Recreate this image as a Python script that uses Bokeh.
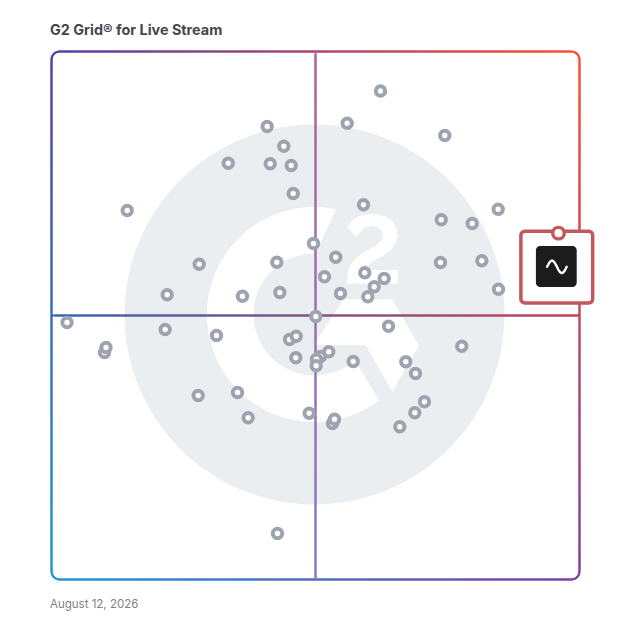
import math
import numpy as np
from bokeh.plotting import figure
from bokeh.models import Range1d
from bokeh.core.properties import value
from bokeh.embed import file_html
from bokeh.resources import INLINE

title_text = "G2 Grid\u00ae for Live Stream"
date_text = "August 12, 2026"

# Satisfaction (x) / market presence (y) scores, 0-100
market_x = [40.85, 56.00, 74.49, 44.00, 33.47, 41.42, 45.40, 45.78, 14.34, 59.09,
            73.81, 79.68, 84.60, 49.62, 53.84, 27.97, 42.67, 73.67, 81.50, 59.34,
            63.01, 51.70, 61.12, 59.91, 54.73, 43.24, 36.17, 21.91, 84.66, 50.06,
            21.53, 31.25, 63.83, 45.08, 46.34, 77.71, 46.27, 50.95, 52.52, 50.19,
            50.13, 57.14, 67.10, 68.94, 27.78, 35.23, 70.64, 68.81, 37.25, 48.81,
            53.22, 53.60, 65.97, 2.94, 10.04, 10.32, 42.80, 62.31]
market_y = [85.80, 86.42, 84.09, 82.06, 78.84, 78.73, 78.41, 73.11, 69.89, 70.97,
            68.13, 67.42, 70.13, 63.64, 61.04, 59.72, 60.09, 60.04, 60.36, 58.09,
            57.01, 57.33, 55.44, 53.54, 54.17, 54.36, 53.66, 53.92, 54.98, 49.81,
            47.35, 46.21, 47.97, 45.45, 46.08, 44.19, 41.99, 42.23, 43.13, 41.72,
            40.47, 41.29, 41.23, 39.02, 34.85, 35.42, 33.66, 31.57, 30.63, 31.50,
            29.55, 30.36, 28.92, 48.67, 42.99, 43.94, 8.71, 92.52]
selected_x = [96.02]
selected_y = [65.60]

# page-pixel to chart-unit helpers (only for decoration)
L, R, T, B = 51.0, 579.0, 51.0, 579.0
k = (R - L) / 100.0
def ux(px): return (np.asarray(px, dtype=float) - L) / k
def uy(py): return (B - np.asarray(py, dtype=float)) / k

p = figure(width=628, height=628, output_backend="svg", toolbar_location=None,
           x_axis_type=None, y_axis_type=None, min_border=0,
           x_range=Range1d(float(ux(0)), float(ux(628))),
           y_range=Range1d(float(uy(628)), float(uy(0))))
p.outline_line_color = None
p.grid.visible = False
p.background_fill_color = "white"
p.border_fill_color = "white"

# --- watermark ---
CX, CY = 314.0, 314.0
LOGO_GREY = "#ebeef1"
def arc(r, a0, a1, n=120):
    t = np.radians(np.linspace(a0, a1, n))
    return CX + r * np.cos(t), CY + r * np.sin(t)
cx, cy = arc(190, 0, 360, 240)
p.patch(ux(cx), uy(cy), fill_color=LOGO_GREY, line_color=None)

R_OUT, R_IN = 107.5, 61.0
a_out0 = math.degrees(math.atan2(-106.9, 22.1))
a_in0 = math.degrees(math.atan2(-62.3, 0.6))
a_out1 = math.degrees(math.atan2(87.1, 65.4))
a_in1 = math.degrees(math.atan2(45.6, 40.5))
ox, oy = arc(R_OUT, a_out0, a_out1 - 360)
ix, iy = arc(R_IN, a_in1 - 360, a_in0)
p.patch(ux(np.r_[ox, ix]), uy(np.r_[oy, iy]), fill_color="white", line_color=None)

chev_x = [313, 343, 391.7, 418.3, 391.7, 365]
chev_y = [344.5, 299, 299, 345, 391, 344.5]
p.patch(ux(chev_x), uy(chev_y), fill_color="white", line_color=None)

two_x = [347, 352, 359, 367, 375, 385, 392, 396, 397.3, 395, 390, 383, 374, 368.5, 367,
         397.3, 397.3, 347, 347, 350, 356, 365, 373, 379, 382.5, 382, 378, 372, 365, 360, 355.5]
two_y = [226.5, 220, 215.5, 213.5, 213.5, 216, 221, 228, 236, 243, 250, 255, 260, 264, 269.5,
         269.5, 283, 283, 273, 264, 257, 251, 246.5, 242, 237, 231, 227, 225.5, 226.5, 231, 236.7]
p.patch(ux(two_x), uy(two_y), fill_color="white", line_color=None)

# --- gradient frame ---
TL, TR, BL, BR = (85, 64, 168), (255, 80, 48), (32, 152, 216), (128, 64, 160)
def mix(px, py):
    u = np.clip((px - L) / (R - L), 0, 1)
    v = np.clip((py - T) / (B - T), 0, 1)
    c = []
    for i in range(3):
        c.append((1 - v) * ((1 - u) * TL[i] + u * TR[i]) + v * ((1 - u) * BL[i] + u * BR[i]))
    return c
def hexes(rgb):
    return ["#%02x%02x%02x" % (int(a), int(b), int(c)) for a, b, c in zip(*rgb)]
def segs(px, py, colors, width):
    # each piece overlaps the next one so that no seams show
    n = len(px)
    e = np.minimum(np.arange(n - 1) + 2, n - 1)
    p.segment(ux(px[:-1]), uy(py[:-1]), ux(px[e]), uy(py[e]), line_color=colors,
              line_width=width, line_cap="butt")

def rrect(x0, y0, x1, y1, r, n=10):
    xs, ys = [], []
    corners = [(x1 - r, y0 + r, -90, 0), (x1 - r, y1 - r, 0, 90),
               (x0 + r, y1 - r, 90, 180), (x0 + r, y0 + r, 180, 270)]
    for (qx, qy, a0, a1) in corners:
        t = np.radians(np.linspace(a0, a1, n))
        xs.extend(qx + r * np.cos(t)); ys.extend(qy + r * np.sin(t))
    xs.append(xs[0]); ys.append(ys[0])
    return np.array(xs), np.array(ys)

fx, fy = rrect(L, T, R, B, 8)
dense_x, dense_y = [], []
for i in range(len(fx) - 1):
    m = max(1, int(math.hypot(fx[i + 1] - fx[i], fy[i + 1] - fy[i]) / 3))
    for j in range(m):
        dense_x.append(fx[i] + (fx[i + 1] - fx[i]) * j / m)
        dense_y.append(fy[i] + (fy[i + 1] - fy[i]) * j / m)
dense_x.append(fx[0]); dense_y.append(fy[0])
dense_x, dense_y = np.array(dense_x), np.array(dense_y)
segs(dense_x, dense_y, hexes(mix(dense_x[:-1], dense_y[:-1])), 2)

# quadrant lines
hx = np.arange(L, R + 1, 3.0)
hy = np.full_like(hx, 315.0)
h0, h1 = (58, 100, 180), (200, 64, 84)
u = (hx[:-1] - L) / (R - L)
hcol = hexes([h0[i] + (h1[i] - h0[i]) * u for i in range(3)])
vy = np.arange(T, B + 1, 3.0)
vx = np.full_like(vy, 315.0)
v0, v1 = (172, 100, 152), (134, 122, 200)
w = (vy[:-1] - T) / (B - T)
vcol = hexes([v0[i] + (v1[i] - v0[i]) * w for i in range(3)])
segs(vx, vy, vcol, 2)
segs(hx, hy, hcol, 2)

# --- products ---
p.scatter(market_x, market_y, size=9.4, marker="circle", fill_color="white",
          line_color="#9ea3b0", line_width=4)

# --- highlighted product ---
MARK = "#c0585c"
bx, by = rrect(520.4, 230.8, 592.2, 302.4, 4)
p.patch(ux(bx), uy(by), fill_color="white", line_color=MARK, line_width=3.5)
p.scatter(selected_x, selected_y, size=11.5, marker="circle", fill_color="white",
          line_color=MARK, line_width=3.4)
ix2, iy2 = rrect(535.4, 245.4, 576.2, 286.6, 4.5)
p.patch(ux(ix2), uy(iy2), fill_color="#1c1c1e", line_color=None)
wx = np.linspace(546.6, 566.2, 40)
wy = 266.3 - 6.2 * np.sin((wx - 546.6) / (566.2 - 546.6) * 2 * np.pi)
p.line(ux(wx), uy(wy), line_color="white", line_width=2.4, line_cap="round", line_join="round")

# --- texts ---
p.text(ux([49.5]), uy([34]), text=[title_text], text_font=value("Inter"), text_font_size="14.4px",
       text_font_style="bold", text_color="#44474c", text_baseline="alphabetic", text_align="left",
       y_offset=-5)
p.text(ux([49.5]), uy([608]), text=[date_text], text_font=value("Inter"), text_font_size="11.5px",
       text_color="#7e8085", text_baseline="alphabetic", text_align="left", y_offset=-5)

open("out.html", "w").write(file_html(p, INLINE))
